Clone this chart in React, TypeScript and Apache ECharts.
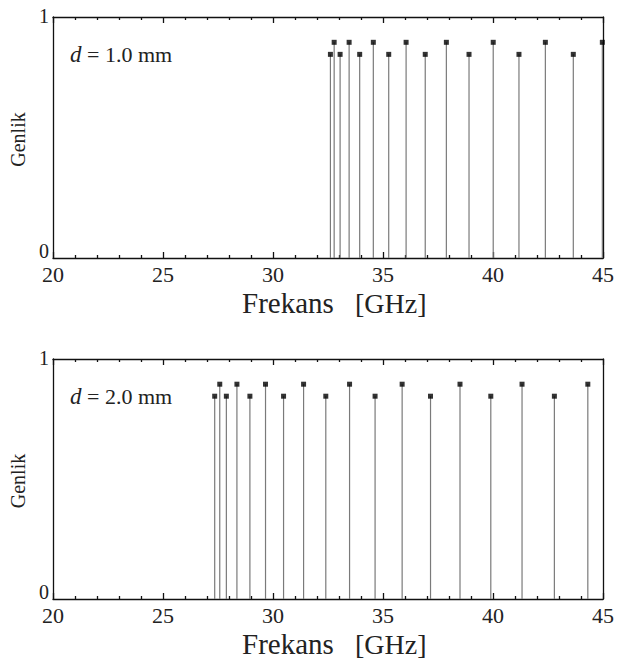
import React, { useEffect, useRef } from "react";
import * as echarts from "echarts";

const freqTop = [32.61, 32.78, 33.05, 33.46, 33.94, 34.56, 35.26, 36.05, 36.92, 37.88, 38.91, 40.01, 41.18, 42.38, 43.65, 44.97];
const ampTop = [0.845, 0.895, 0.845, 0.895, 0.845, 0.895, 0.845, 0.895, 0.845, 0.895, 0.845, 0.895, 0.845, 0.895, 0.845, 0.895];
const freqBottom = [27.35, 27.58, 27.88, 28.36, 28.95, 29.66, 30.48, 31.39, 32.4, 33.48, 34.64, 35.87, 37.16, 38.5, 39.9, 41.32, 42.79, 44.31];
const ampBottom = [0.845, 0.895, 0.845, 0.895, 0.845, 0.895, 0.845, 0.895, 0.845, 0.895, 0.845, 0.895, 0.845, 0.895, 0.845, 0.895, 0.845, 0.895];
const xTicks = [20, 25, 30, 35, 40, 45];
const yTicks = [0, 1];
const labelsD = ["1.0", "2.0"];

const FONT = "Liberation Serif";
const INK = "#222";

export default function App() {
  const ref = useRef<HTMLDivElement>(null);
  useEffect(() => {
    if (!ref.current) return;
    const chart = echarts.init(ref.current, undefined, { renderer: "svg" });
    const grids = [
      { left: 53, top: 17, width: 551, height: 241 },
      { left: 53, top: 359, width: 551, height: 240 },
    ];
    const datasets = [
      freqTop.map((f, i) => [f, ampTop[i]]),
      freqBottom.map((f, i) => [f, ampBottom[i]]),
    ];
    const xAxes: any[] = [];
    const yAxes: any[] = [];
    const series: any[] = [];
    const graphic: any[] = [];
    const lineStyle = { color: "#111", width: 1.3 };
    grids.forEach((g, gi) => {
      xAxes.push({
        type: "value",
        gridIndex: gi,
        min: xTicks[0],
        max: xTicks[xTicks.length - 1],
        interval: 5,
        position: "bottom",
        axisLine: { show: true, onZero: false, lineStyle },
        axisTick: { show: true, inside: true, length: 6, lineStyle },
        minorTick: { show: true, splitNumber: 5, length: 3, lineStyle },
        axisLabel: {
          show: true,
          margin: 5,
          fontFamily: FONT,
          fontSize: 22,
          color: INK,
          formatter: (v: number) => (xTicks.includes(v) ? `{t|${v}}` : ""),
          rich: { t: { fontFamily: FONT, fontSize: 22, color: INK } },
        },
        splitLine: { show: false },
      });
      xAxes.push({
        type: "value",
        gridIndex: gi,
        min: xTicks[0],
        max: xTicks[xTicks.length - 1],
        interval: 5,
        position: "top",
        axisLine: { show: true, onZero: false, lineStyle },
        axisTick: { show: true, inside: true, length: 6, lineStyle },
        minorTick: { show: true, splitNumber: 5, length: 3, lineStyle },
        axisLabel: { show: false },
        splitLine: { show: false },
      });
      yAxes.push({
        type: "value",
        gridIndex: gi,
        min: yTicks[0],
        max: yTicks[1],
        interval: 1,
        position: "left",
        axisLine: { show: true, onZero: false, lineStyle },
        axisTick: { show: false },
        axisLabel: {
          show: true,
          margin: 4,
          fontFamily: FONT,
          fontSize: 20,
          color: INK,
          formatter: (v: number) => (v === 0 ? `{lo|${v}}` : `{hi|${v}}`),
          rich: {
            lo: { fontFamily: FONT, fontSize: 20, color: INK, padding: [0, 0, 14, 0] },
            hi: { fontFamily: FONT, fontSize: 20, color: INK, padding: [0, 0, 2, 0] },
          },
        },
        splitLine: { show: false },
      });
      yAxes.push({
        type: "value",
        gridIndex: gi,
        min: 0,
        max: 1,
        position: "right",
        axisLine: { show: true, onZero: false, lineStyle },
        axisTick: { show: false },
        axisLabel: { show: false },
        splitLine: { show: false },
      });
      series.push({
        type: "custom",
        xAxisIndex: gi * 2,
        yAxisIndex: gi * 2,
        data: datasets[gi],
        encode: { x: 0, y: 1 },
        renderItem: (params: any, api: any) => {
          const p0 = api.coord([api.value(0), 0]);
          const p1 = api.coord([api.value(0), api.value(1)]);
          return {
            type: "line",
            shape: { x1: p0[0], y1: p0[1], x2: p1[0], y2: p1[1] },
            style: { stroke: "#7a7a7a", lineWidth: 1.2 },
          };
        },
        z: 2,
      });
      series.push({
        type: "scatter",
        xAxisIndex: gi * 2,
        yAxisIndex: gi * 2,
        data: datasets[gi],
        symbol: "rect",
        symbolSize: 5,
        itemStyle: { color: "#000" },
        z: 3,
      });
      const midY = g.top + g.height / 2;
      graphic.push({
        type: "text",
        x: 18,
        y: midY + 2,
        rotation: Math.PI / 2,
        style: {
          text: "{a|Genlik}",
          align: "center",
          verticalAlign: "middle",
          fontFamily: FONT,
          fontSize: 20,
          fill: INK,
          rich: { a: { fontFamily: FONT, fontSize: 20, fill: INK } },
        },
      });
      graphic.push({
        type: "text",
        x: 242,
        y: g.top + g.height + 45,
        style: {
          text: "{a|Frekans}",
          align: "left",
          verticalAlign: "middle",
          fontFamily: FONT,
          fontSize: 29,
          fill: INK,
          rich: { a: { fontFamily: FONT, fontSize: 29, fill: INK } },
        },
      });
      graphic.push({
        type: "text",
        x: 355,
        y: g.top + g.height + 45,
        style: {
          text: "{a|[GHz]}",
          align: "left",
          verticalAlign: "middle",
          fontFamily: FONT,
          fontSize: 28,
          fill: INK,
          rich: { a: { fontFamily: FONT, fontSize: 28, fill: INK } },
        },
      });
      graphic.push({
        type: "text",
        x: 70,
        y: g.top + 37,
        style: {
          text: `{i|d} = ${labelsD[gi]} mm`,
          verticalAlign: "middle",
          fontFamily: FONT,
          fontSize: 22,
          fill: INK,
          rich: {
            i: { fontStyle: "italic", fontSize: 23, fontFamily: FONT, fill: INK },
          },
        },
      });
    });
    chart.setOption({
      animation: false,
      backgroundColor: "#ffffff",
      grid: grids,
      xAxis: xAxes,
      yAxis: yAxes,
      series,
      graphic,
    });
    return () => chart.dispose();
  }, []);
  return <div ref={ref} style={{ position: "fixed", left: 0, top: 0, width: 617, height: 664, background: "#fff" }} />;
}
